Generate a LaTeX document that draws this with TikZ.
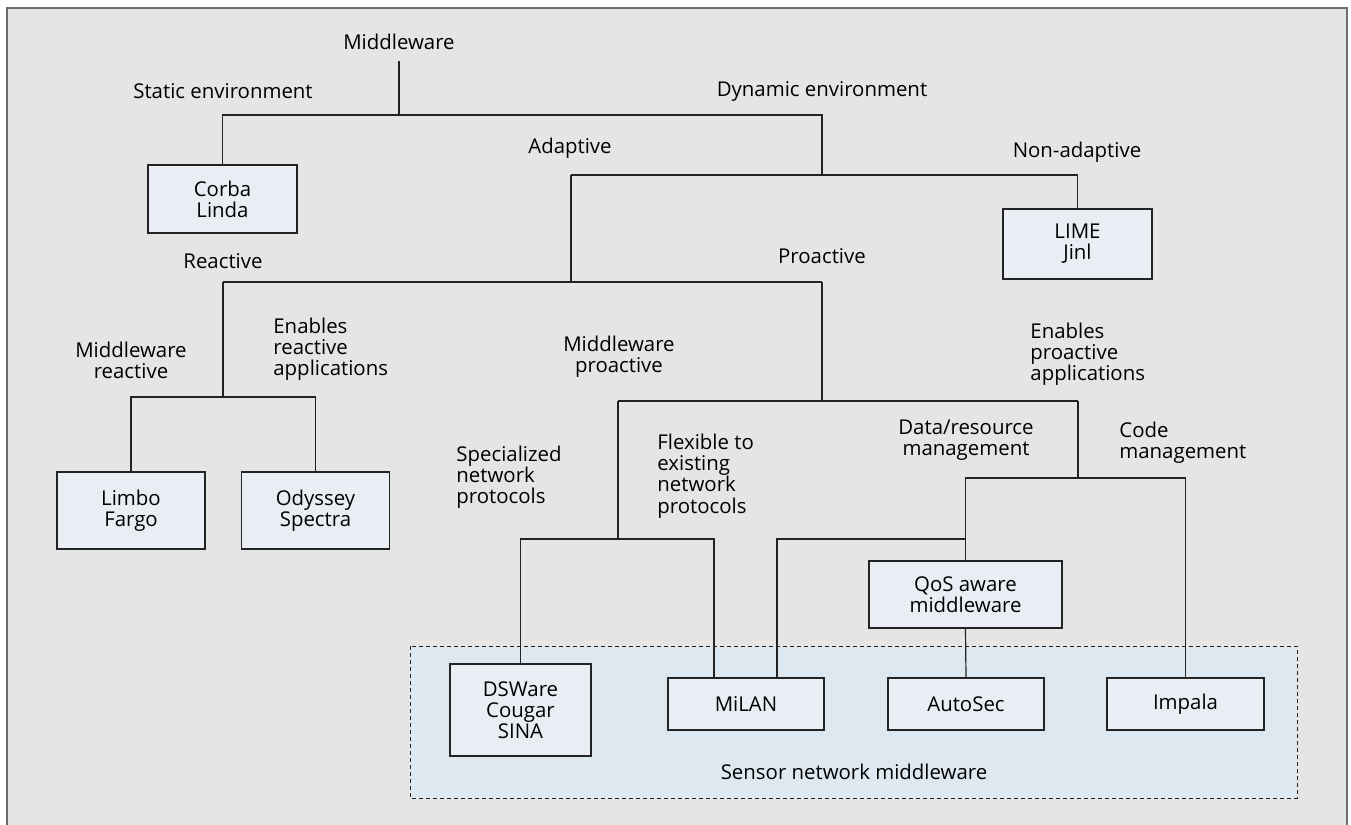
\documentclass[tikz,border=0pt]{standalone}
\usepackage{fontspec}
\setmainfont{Open Sans}
\definecolor{panelGray}{RGB}{229,229,229}
\definecolor{boxBlue}{RGB}{233,238,245}
\definecolor{sensorBlue}{RGB}{221,232,240}
\definecolor{frameGray}{RGB}{110,110,110}
\definecolor{lineDark}{RGB}{35,35,35}
\tikzset{
  leaf/.style={draw=lineDark, fill=boxBlue, line width=0.6pt, align=center, inner sep=0pt},
  tag/.style={align=center, inner sep=0pt},
  tagl/.style={align=left, inner sep=0pt, anchor=west},
  link/.style={draw=lineDark, line width=0.6pt},
}

\begin{document}
\begin{tikzpicture}[x=0.5pt, y=-0.5pt, font=\fontsize{10.2}{10.6}\selectfont]
	\useasboundingbox (0,0) rectangle (1351,825);
	\fill[panelGray] (7,8) rectangle (1347,825);
	\draw[frameGray, line width=0.8pt] (7,825) -- (7,8) -- (1347,8) -- (1347,825);
	% sensor network group
	\draw[lineDark, fill=sensorBlue, line width=0.5pt, dash pattern=on 2pt off 1.5pt] (410,646) rectangle (1297,798);
	\node[tag] (snm) at (854,772) {Sensor network middleware};

	% branch labels
	\node[tag] (mw) at (399,42) {Middleware};
	\node[tag] (static) at (223,91) {Static environment};
	\node[tag] (dynamic) at (822,91) {Dynamic environment};
	\node[tag] (adaptive) at (570,148) {Adaptive};
	\node[tag] (nonadaptive) at (1077,152) {Non-adaptive};
	\node[tag] (reactive) at (223,261) {Reactive};
	\node[tag] (proactive) at (822,256) {Proactive};
	\node[tag] (mwreact) at (131,360) {Middleware\\reactive};
	\node[tagl] (enreact) at (273,349) {Enables\\reactive\\applications};
	\node[tag] (mwproact) at (619,357) {Middleware\\proactive};
	\node[tagl] (enproact) at (1030,354) {Enables\\proactive\\applications};
	\node[tagl] (special) at (456,477) {Specialized\\network\\protocols};
	\node[tagl] (flexible) at (657,476) {Flexible to\\existing\\network\\protocols};
	\node[tag] (datares) at (966,440) {Data/resource\\management};
	\node[tagl] (codemg) at (1119,443) {Code\\management};

	% boxes
	\node[leaf, minimum width=74.5pt, minimum height=34pt] (corba) at (222.5,199) {Corba\\Linda};
	\node[leaf, minimum width=74.5pt, minimum height=35pt] (lime) at (1077.5,244) {LIME\\Jinl};
	\node[leaf, minimum width=74pt, minimum height=38.5pt] (limbo) at (131,510.5) {Limbo\\Fargo};
	\node[leaf, minimum width=74pt, minimum height=38.5pt] (odyssey) at (315.5,510.5) {Odyssey\\Spectra};
	\node[leaf, minimum width=96.5pt, minimum height=33.5pt] (qos) at (965.5,594.5) {QoS aware\\middleware};
	\node[leaf, minimum width=70.5pt, minimum height=46pt] (dsware) at (520.5,710) {DSWare\\Cougar\\SINA};
	\node[leaf, minimum width=78pt, minimum height=26pt] (milan) at (746,704) {MiLAN};
	\node[leaf, minimum width=78pt, minimum height=26pt] (autosec) at (966,704) {AutoSec};
	\node[leaf, minimum width=78.5pt, minimum height=26pt] (impala) at (1185.5,704) {Impala};

	% fork points
	\coordinate (envfork) at (399,115);
	\coordinate (dynfork) at (822,115);
	\coordinate (dynbar) at (822,175);
	\coordinate (adafork) at (571,175);
	\coordinate (adabar) at (571,282);
	\coordinate (reactfork) at (223,282);
	\coordinate (proactfork) at (822,282);
	\coordinate (reactbar) at (223,397);
	\coordinate (proactbar) at (822,401);
	\coordinate (mwpfork) at (618,401);
	\coordinate (enpfork) at (1078,401);
	\coordinate (mwpbar) at (618,539);
	\coordinate (enpbar) at (1078,478);
	\coordinate (dataj) at (966,539);

	% tree
	\draw[link] ([yshift=-5.5pt]mw.south) -- (envfork);
	\draw[link] (corba.north) |- (dynfork) -- (dynbar);
	\draw[link] (adafork) -| (lime.north);
	\draw[link] (adafork) -- (adabar);
	\draw[link] (reactfork) -- (proactfork);
	\draw[link] (reactfork) -- (reactbar);
	\draw[link] (limbo.north) |- (reactbar) -| (odyssey.north);
	\draw[link] (proactfork) -- (proactbar);
	\draw[link] (mwpfork) -- (enpfork);
	\draw[link] (mwpfork) -- (mwpbar);
	\draw[link] (dsware.north) |- (mwpbar) -| ([xshift=-16pt]milan.north);
	\draw[link] (enpfork) -- (enpbar);
	\draw[link] (qos.north) |- (enpbar) -| (impala.north);
	\draw[link] ([xshift=15.5pt]milan.north) |- (dataj);
	\draw[link] (qos.south) -- (autosec.north);
\end{tikzpicture}
\end{document}
